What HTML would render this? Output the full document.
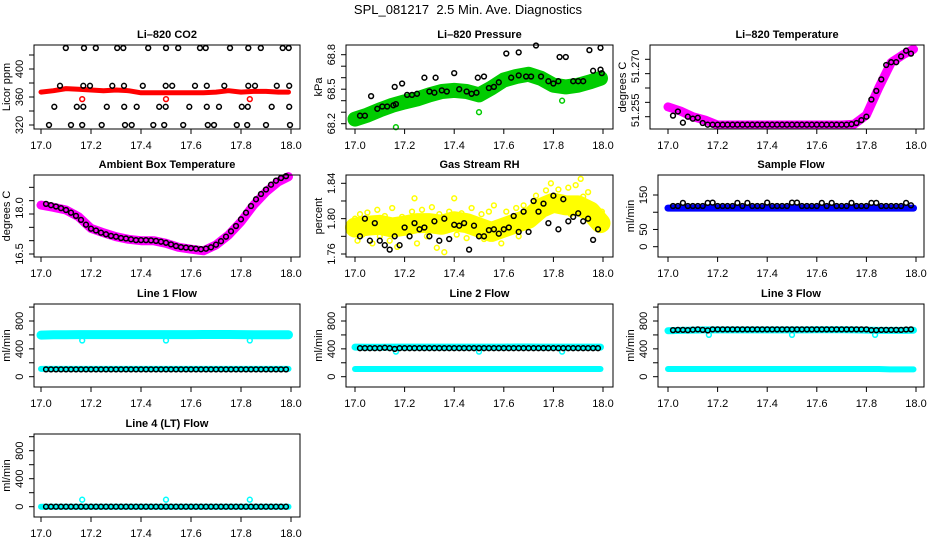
<!DOCTYPE html>
<html><head><meta charset="utf-8"><style>
html,body{margin:0;padding:0;background:#fff;}
svg{display:block;font-family:"Liberation Sans",Arial,sans-serif;}
</style></head><body>
<svg id="chart" width="936" height="540" viewBox="0 0 936 540" xmlns="http://www.w3.org/2000/svg">
<rect width="936" height="540" fill="#fff"/>
<text x="468" y="14" text-anchor="middle" font-size="13">SPL_081217&#160; 2.5 Min. Ave. Diagnostics</text>
</svg>
<script>
// shared time axes (decimal hours)
const TB=[17.02,17.04,17.06,17.08,17.10,17.12,17.14,17.16,17.18,17.20,17.22,17.24,17.26,17.28,17.30,17.32,17.34,17.36,17.38,17.40,17.42,17.44,17.46,17.48,17.50,17.52,17.54,17.56,17.58,17.60,17.62,17.64,17.66,17.68,17.70,17.72,17.74,17.76,17.78,17.80,17.82,17.84,17.86,17.88,17.90,17.92,17.94,17.96,17.98];
const TC=[17.0,17.05,17.1,17.15,17.2,17.25,17.3,17.35,17.4,17.45,17.5,17.55,17.6,17.65,17.7,17.75,17.8,17.85,17.9,17.95,17.99];
const TO=[17.165,17.5,17.835];
const xTicks=[17.0,17.2,17.4,17.6,17.8,18.0];
const xTickLabels=["17.0","17.2","17.4","17.6","17.8","18.0"];
// CO2
const co2Red=[367,369,372,371,370,369,370,369,366,366,366,366,366,366,367,369,367,368,368,367,367];
const co2RedOutV=[357,357,357];
const co2BlkX=[17.099,17.172,17.219,17.305,17.329,17.429,17.5,17.549,17.636,17.659,17.756,17.829,17.879,17.967,17.991,17.076,17.169,17.196,17.285,17.332,17.407,17.499,17.525,17.616,17.663,17.733,17.829,17.856,17.943,17.993,17.053,17.143,17.169,17.263,17.333,17.383,17.473,17.499,17.593,17.663,17.712,17.803,17.827,17.923,17.993,17.032,17.12,17.165,17.243,17.336,17.363,17.449,17.493,17.569,17.667,17.692,17.783,17.825,17.9,17.996];
const co2BlkV=[430,430,430,430,430,430,430,430,430,430,430,430,430,430,430,376,376,376,376,376,376,376,376,376,376,376,376,376,376,376,346,346,346,346,346,346,346,346,346,346,346,346,346,346,346,320,320,320,320,320,320,320,320,320,320,320,320,320,320,320];
// Pressure
const presGreen=[68.24,68.275,68.32,68.36,68.39,68.415,68.45,68.48,68.49,68.48,68.45,68.51,68.58,68.61,68.63,68.595,68.535,68.52,68.535,68.565,68.595];
const presGreenOut=[68.17,68.3,68.4];
const presBlkX=[17.02,17.04,17.065,17.09,17.11,17.13,17.155,17.165,17.16,17.19,17.21,17.23,17.25,17.28,17.3,17.32,17.325,17.35,17.37,17.4,17.42,17.45,17.47,17.49,17.495,17.52,17.54,17.56,17.58,17.61,17.63,17.66,17.66,17.69,17.71,17.73,17.75,17.78,17.80,17.82,17.825,17.85,17.88,17.9,17.92,17.945,17.96,17.99,17.99,17.995];
const presBlkV=[68.27,68.27,68.44,68.33,68.35,68.35,68.36,68.37,68.52,68.55,68.45,68.45,68.46,68.6,68.48,68.47,68.6,68.49,68.48,68.64,68.5,68.48,68.46,68.47,68.6,68.61,68.51,68.52,68.56,68.81,68.6,68.82,68.62,68.61,68.61,68.88,68.61,68.57,68.55,68.57,68.78,68.78,68.57,68.57,68.57,68.84,68.66,68.86,68.67,68.64];
// Li-820 temperature
const tmpMag=[51.2534,51.2520,51.2500,51.2488,51.2471,51.2471,51.2471,51.2471,51.2471,51.2471,51.2471,51.2471,51.2471,51.2471,51.2471,51.2474,51.2506,51.2601,51.2689,51.2717,51.2735];
const tmpBlk=[51.2504,51.2518,51.2479,51.2500,51.2493,51.2496,51.2478,51.2472,51.2472,51.2472,51.2472,51.2472,51.2472,51.2472,51.2472,51.2472,51.2472,51.2472,51.2472,51.2472,51.2472,51.2472,51.2472,51.2472,51.2472,51.2472,51.2472,51.2472,51.2472,51.2472,51.2472,51.2472,51.2472,51.2472,51.2472,51.2472,51.2474,51.2478,51.2488,51.2500,51.2560,51.2590,51.2630,51.2680,51.2690,51.2690,51.2710,51.2730,51.2720];
// Ambient box temperature
const ambMag=[18.335,18.25,18.15,17.9,17.46,17.3,17.15,17.05,17.0,17.0,16.9,16.75,16.68,16.62,16.84,17.21,17.71,18.33,18.83,19.21,19.4];
const ambBlk=[18.38,18.33,18.28,18.22,18.15,18.05,17.93,17.78,17.6,17.45,17.38,17.3,17.24,17.18,17.15,17.1,17.08,17.05,17.02,17.02,17.02,17.01,16.99,16.96,16.92,16.86,16.8,16.76,16.74,16.72,16.7,16.68,16.7,16.75,16.85,16.98,17.15,17.35,17.55,17.8,18.05,18.3,18.55,18.75,18.92,19.1,19.25,19.35,19.42];
// Gas stream RH
const rhBand=[1.790,1.792,1.793,1.790,1.792,1.795,1.795,1.793,1.797,1.795,1.790,1.785,1.790,1.795,1.800,1.812,1.818,1.815,1.815,1.808,1.795];
const rhYelX=[17.0,17.01,17.02,17.03,17.05,17.07,17.09,17.1,17.12,17.14,17.15,17.17,17.19,17.21,17.23,17.24,17.25,17.27,17.29,17.31,17.33,17.34,17.36,17.38,17.4,17.41,17.43,17.45,17.47,17.49,17.51,17.52,17.54,17.56,17.57,17.59,17.61,17.63,17.65,17.66,17.68,17.7,17.72,17.73,17.75,17.77,17.79,17.8,17.82,17.84,17.86,17.87,17.89,17.91,17.92,17.94,17.96,17.97,17.99,17.995];
const rhYelV=[1.800,1.775,1.805,1.782,1.807,1.772,1.81,1.78,1.803,1.775,1.812,1.768,1.802,1.785,1.808,1.823,1.772,1.810,1.780,1.813,1.767,1.805,1.762,1.808,1.823,1.782,1.806,1.778,1.812,1.790,1.805,1.777,1.808,1.815,1.785,1.772,1.808,1.790,1.812,1.780,1.815,1.800,1.818,1.826,1.810,1.832,1.840,1.822,1.833,1.815,1.835,1.805,1.838,1.845,1.825,1.830,1.815,1.798,1.790,1.808];
const rhBlk=[1.780,1.800,1.775,1.795,1.775,1.770,1.765,1.780,1.770,1.790,1.780,1.795,1.788,1.790,1.780,1.797,1.775,1.800,1.777,1.793,1.792,1.795,1.765,1.792,1.780,1.780,1.787,1.788,1.783,1.788,1.790,1.803,1.785,1.808,1.785,1.820,1.808,1.817,1.795,1.826,1.788,1.822,1.797,1.802,1.806,1.797,1.800,1.776,1.788];
// Sample flow
const smpBlue=[112,112,112,112,112,112,112,112,112,112,112,112,112,112,112,112,112,112,112,112,112];
const smpBlk=[118,118,127,118,118,118,118,127,128,118,118,118,118,127,118,127,118,118,118,128,118,118,118,118,128,128,118,118,118,118,127,118,127,118,118,118,127,118,118,118,127,127,118,118,118,118,118,127,120];
// Line flows
const l1CyanTop=[598,602,602,604,604,604,604,604,604,604,604,604,604,606,606,606,604,602,602,602,602];
const l1CyanBot=[112,112,112,112,112,112,112,112,112,112,112,112,112,112,112,112,112,112,112,112,112];
const l1CyanOut=[520,520,520];
const l1Blk=[105,105,105,105,105,105,105,105,105,105,105,105,105,105,105,105,105,105,105,105,105,105,105,105,105,105,105,105,105,105,105,105,105,105,105,105,105,105,105,105,105,105,105,105,105,105,105,105,105];
const l2CyanTop=[425,422,422,425,425,425,425,425,425,425,425,425,425,427,427,425,425,425,425,425,425];
const l2CyanBot=[110,110,110,110,110,110,110,110,110,110,110,110,110,110,110,110,110,110,110,110,110];
const l2CyanOut=[360,360,360];
const l2Blk=[410,410,410,410,410,415,410,400,410,410,410,410,410,410,410,410,410,410,410,410,410,410,410,410,410,410,410,410,410,410,410,410,410,410,410,410,410,410,410,410,410,410,410,410,410,410,410,410,410];
const l3CyanTop=[660,665,670,672,672,672,672,672,672,672,672,672,675,675,675,672,670,665,665,665,668];
const l3CyanBot=[110,110,110,110,110,110,110,110,110,110,110,110,110,110,110,110,110,110,105,105,105];
const l3CyanOut=[600,600,600];
const l3Blk=[670,672,672,670,675,680,672,665,680,680,680,680,680,680,680,680,680,680,680,680,680,680,680,680,680,680,680,680,680,680,680,680,680,680,680,680,680,680,680,680,670,670,672,672,672,672,672,678,680];
const l4Cyan=[0,0,0,0,0,0,0,0,0,0,0,0,0,0,0,0,0,0,0,0,0];
const l4CyanOut=[100,100,100];
const l4Blk=[0,0,0,0,0,0,0,0,0,0,0,0,0,0,0,0,0,0,0,0,0,0,0,0,0,0,0,0,0,0,0,0,0,0,0,0,0,0,0,0,0,0,0,0,0,0,0,0,0];

const NS="http://www.w3.org/2000/svg";
const svg=document.getElementById('chart');
function mk(tag,attrs,parent){const e=document.createElementNS(NS,tag);for(const k in attrs)e.setAttribute(k,attrs[k]);(parent||svg).appendChild(e);return e;}
function lin(v0,p0,v1,p1){return v=>p0+(v-v0)*(p1-p0)/(v1-v0);}

function panel(c){
  const g=mk('g',{});
  
  
  const [L,T,R,B]=c.box;
  const X=lin(17,c.x0,18,c.x1), Y=lin(c.v0,c.p0,c.v1,c.p1);
  const t=mk('text',{x:(L+R)/2,y:T-7,'text-anchor':'middle','font-size':11,'font-weight':'bold'},g);
  t.textContent=c.title;
  
  
  const plot=mk('g',{},g);
  
  
  (c.series||[]).forEach(s=>{
    if(s.type==='band'){
      const pts=s.xs.map((x,i)=>X(x).toFixed(1)+','+Y(s.vs[i]).toFixed(1)).join(' ');
      const pl=mk('polyline',{points:pts,fill:'none',stroke:s.color,'stroke-width':s.w,'stroke-linejoin':'round','stroke-linecap':'round'},plot);
      
      
    } else {
      s.xs.forEach((x,i)=>{
        const ci=mk('circle',{cx:X(x).toFixed(1),cy:Y(s.vs[i]).toFixed(1),r:s.r||2.4,fill:'none',stroke:s.color,'stroke-width':1.5},plot);
        
        
      });
    }
  });
  const bx=mk('rect',{x:L,y:T,width:R-L,height:B-T,fill:'none',stroke:'#000','stroke-width':1},g);
  
  
  xTicks.forEach((v,i)=>{
    const x=X(v);
    mk('line',{x1:x,x2:x,y1:B,y2:B+5,stroke:'#000'},g);
    const tl=mk('text',{x:x,y:B+20,'text-anchor':'middle','font-size':11},g);
    tl.textContent=xTickLabels[i];
    
    
  });
  c.yt.forEach(v=>{const y=Y(v);mk('line',{x1:L-5,x2:L,y1:y,y2:y,stroke:'#000'},g);});
  c.yl.forEach(l=>{
    const y=Y(l[0])+(l[2]||0);
    const tl=mk('text',{transform:`translate(${L-11},${y.toFixed(1)}) rotate(-90)`,'text-anchor':'middle','font-size':11},g);
    tl.textContent=l[1];
    
    
  });
  const yt=mk('text',{transform:`translate(${L-24},${(T+B)/2}) rotate(-90)`,'text-anchor':'middle','font-size':11},g);
  yt.textContent=c.ylab;
  
  
}

const C1=[41,291],C2=[355,603],C3=[668,916];
const flowYt=[0,200,400,600,800,1000], flowYl=[[0,'0'],[400,'400'],[800,'800']];
const B=(xs,vs,color,w,name)=>({type:'band',xs,vs,color,w,name});
const P=(xs,vs,color,name)=>({type:'pts',xs,vs,color,name});

panel({name:'co2',title:'Li\u2013820 CO2',box:[34,45,300,129],x0:C1[0],x1:C1[1],v0:320,p0:125,v1:360,p1:97,
  yt:[320,340,360,380,400,420],yl:[[320,'320'],[360,'360'],[400,'400']],ylab:'Licor ppm',
  series:[B(TC,co2Red,'#ff0000',5,'co2-red-series'),P(TO,co2RedOutV,'#ff0000','co2-red-outlier'),P(co2BlkX,co2BlkV,'#000','co2-black-point')]});
panel({name:'pressure',title:'Li\u2013820 Pressure',box:[346,45,613,129],x0:C2[0],x1:C2[1],v0:68.2,p0:123.7,v1:68.8,p1:54.7,
  yt:[68.2,68.3,68.4,68.5,68.6,68.7,68.8],yl:[[68.2,'68.2'],[68.5,'68.5'],[68.8,'68.8']],ylab:'kPa',
  series:[B(TC,presGreen,'#00cc00',15,'pressure-green-series'),P(TO,presGreenOut,'#00cc00','pressure-green-outlier'),P(presBlkX,presBlkV,'#000','pressure-black-point')]});
panel({name:'li820-temperature',title:'Li\u2013820 Temperature',box:[650,45,924,129],x0:C3[0],x1:C3[1],v0:51.25,p0:116.7,v1:51.27,p1:59.3,
  yt:[51.25,51.255,51.26,51.265,51.27],yl:[[51.255,'51.255',8],[51.27,'51.270',7]],ylab:'degrees C',
  series:[B(TC,tmpMag,'#ff00ff',9,'temperature-magenta-series'),P(TB,tmpBlk,'#000','temperature-black-point')]});
panel({name:'ambient-temperature',title:'Ambient Box Temperature',box:[34,175,300,257],x0:C1[0],x1:C1[1],v0:16.5,p0:254,v1:18,p1:214,
  yt:[16.5,17,17.5,18,18.5,19],yl:[[16.5,'16.5'],[18,'18.0',-6]],ylab:'degrees C',
  series:[B(TC,ambMag,'#ff00ff',9,'ambient-magenta-series'),P(TB,ambBlk,'#000','ambient-black-point')]});
panel({name:'gas-stream-rh',title:'Gas Stream RH',box:[346,175,613,257],x0:C2[0],x1:C2[1],v0:1.76,p0:254,v1:1.84,p1:183.3,
  yt:[1.76,1.78,1.80,1.82,1.84],yl:[[1.76,'1.76'],[1.80,'1.80'],[1.84,'1.84']],ylab:'percent',
  series:[B(TC,rhBand,'#ffff00',20,'rh-yellow-band'),P(rhYelX,rhYelV,'#ffff00','rh-yellow-point'),P(TB,rhBlk,'#000','rh-black-point')]});
panel({name:'sample-flow',title:'Sample Flow',box:[658,175,924,257],x0:C3[0],x1:C3[1],v0:0,p0:246.7,v1:150,p1:195,
  yt:[0,50,100,150],yl:[[0,'0'],[50,'50'],[150,'150']],ylab:'ml/min',
  series:[B(TC,smpBlue,'#0000ff',7,'sample-blue-series'),P(TB,smpBlk,'#000','sample-black-point')]});
panel({name:'line1-flow',title:'Line 1 Flow',box:[34,304,300,387],x0:C1[0],x1:C1[1],v0:0,p0:376.7,v1:800,p1:321,
  yt:flowYt,yl:flowYl,ylab:'ml/min',
  series:[B(TC,l1CyanTop,'#00ffff',9,'line1-cyan-upper'),B(TC,l1CyanBot,'#00ffff',6,'line1-cyan-lower'),P(TO,l1CyanOut,'#00ffff','line1-cyan-outlier'),P(TB,l1Blk,'#000','line1-black-point')]});
panel({name:'line2-flow',title:'Line 2 Flow',box:[346,304,613,387],x0:C2[0],x1:C2[1],v0:0,p0:376.7,v1:800,p1:321,
  yt:flowYt,yl:flowYl,ylab:'ml/min',
  series:[B(TC,l2CyanTop,'#00ffff',7,'line2-cyan-upper'),B(TC,l2CyanBot,'#00ffff',6,'line2-cyan-lower'),P(TO,l2CyanOut,'#00ffff','line2-cyan-outlier'),P(TB,l2Blk,'#000','line2-black-point')]});
panel({name:'line3-flow',title:'Line 3 Flow',box:[658,304,924,387],x0:C3[0],x1:C3[1],v0:0,p0:376.7,v1:800,p1:321,
  yt:flowYt,yl:flowYl,ylab:'ml/min',
  series:[B(TC,l3CyanTop,'#00ffff',7,'line3-cyan-upper'),B(TC,l3CyanBot,'#00ffff',6,'line3-cyan-lower'),P(TO,l3CyanOut,'#00ffff','line3-cyan-outlier'),P(TB,l3Blk,'#000','line3-black-point')]});
panel({name:'line4-flow',title:'Line 4 (LT) Flow',box:[34,434,300,517],x0:C1[0],x1:C1[1],v0:0,p0:506.7,v1:800,p1:450.7,
  yt:flowYt,yl:flowYl,ylab:'ml/min',
  series:[B(TC,l4Cyan,'#00ffff',6,'line4-cyan-series'),P(TO,l4CyanOut,'#00ffff','line4-cyan-outlier'),P(TB,l4Blk,'#000','line4-black-point')]});
</script>
</body></html>
